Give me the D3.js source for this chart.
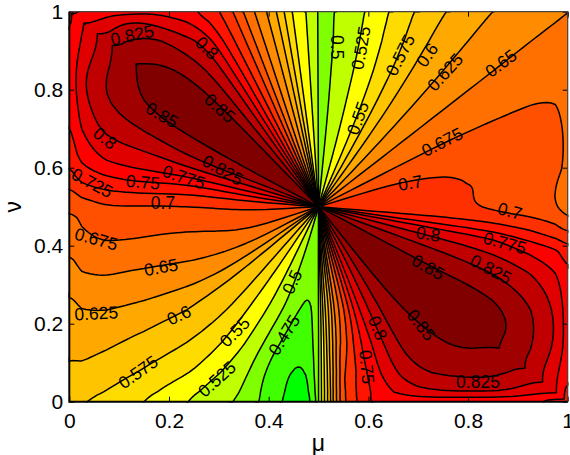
<!DOCTYPE html>
<html>
<head>
<meta charset="utf-8">
<script src="https://cdn.jsdelivr.net/npm/d3@7"></script>
<style>
body { margin: 0; background: #fff; }
text { font-family: "Liberation Sans", sans-serif; fill: #000; }
</style>
</head>
<body>
<script>
var width = 570,
	height = 455;

// contour levels and the colour painted above each one
var levels = [0.425, 0.45, 0.475, 0.5, 0.525, 0.55, 0.575, 0.6, 0.625, 0.65, 0.675, 0.7, 0.725, 0.75, 0.775, 0.8, 0.825, 0.85];
var bandColors = ["#00ff00", "#40ff00", "#80ff00", "#bfff00", "#ffff00", "#ffdc00", "#ffc400", "#ffa800", "#ff8c00", "#ff7000", "#ff5000", "#ff3000", "#ff1400", "#ff0000", "#e00000", "#c00000", "#a00000", "#800000"];
var baseColor = "#00ff50";

var xTicks = [0, 0.2, 0.4, 0.6, 0.8, 1];
var yTicks = [0, 0.2, 0.4, 0.6, 0.8, 1];

// the field is read along rays from the centre (0.5, 0.5) to points on the border
var borderMu = [0, .06, .12, .18, .23, .27, .3, .33, .36, .39, .42, .45, .475, .497, .503, .53, .57, .62, .68, .75, .84, .92,
	1, 1, 1, 1, 1, 1, 1, 1, 1, 1, 1, 1, 1,
	1, .9, .8, .72, .66, .63, .6, .58, .56, .545, .53, .52, .51, .503, .497, .47, .43, .38, .33, .27, .2, .12, .04,
	0, 0, 0, 0, 0, 0, 0, 0, 0, 0, 0, 0, 0];
var borderNu = [1, 1, 1, 1, 1, 1, 1, 1, 1, 1, 1, 1, 1, 1, 1, 1, 1, 1, 1, 1, 1, 1,
	1, .9, .8, .7, .6, .55, .5, .46, .42, .38, .3, .2, .1,
	0, 0, 0, 0, 0, 0, 0, 0, 0, 0, 0, 0, 0, 0, 0, 0, 0, 0, 0, 0, 0, 0, 0,
	0, .08, .18, .28, .36, .42, .47, .5, .54, .58, .64, .74, .86];
var ringFrac = [0, .25, .5, .7, .85, .95, 1];

// one row per ray, one column per ring
var rayValues = [
	[.875, .87, .87, .86, .815, .762, .74],
	[.87, .87, .865, .855, .83, .79, .76],
	[.85, .85, .85, .845, .83, .80, .765],
	[.825, .825, .825, .825, .81, .785, .77],
	[.797, .797, .797, .797, .795, .77, .762],
	[.757, .757, .757, .757, .755, .748, .743],
	[.727, .727, .727, .727, .727, .727, .727],
	[.699, .699, .699, .699, .699, .699, .699],
	[.661, .661, .661, .661, .661, .661, .661],
	[.632, .632, .632, .632, .632, .632, .632],
	[.595, .595, .595, .595, .595, .595, .595],
	[.543, .543, .543, .543, .543, .543, .543],
	[.526, .526, .526, .526, .526, .526, .526],
	[.503, .503, .503, .503, .503, .503, .503],
	[.492, .492, .492, .492, .492, .492, .492],
	[.497, .497, .497, .498, .498, .499, .499],
	[.511, .511, .512, .512, .513, .514, .514],
	[.53, .53, .532, .534, .536, .538, .539],
	[.552, .553, .556, .56, .565, .569, .57],
	[.59, .59, .592, .595, .597, .598, .598],
	[.618, .618, .62, .622, .623, .624, .624],
	[.635, .635, .636, .636, .637, .637, .637],
	[.65, .65, .65, .65, .65, .65, .65],
	[.661, .661, .661, .661, .661, .66, .66],
	[.68, .68, .68, .678, .677, .674, .668],
	[.698, .70, .692, .683, .681, .68, .672],
	[.712, .712, .71, .692, .681, .68, .672],
	[.712, .712, .71, .693, .683, .676, .663],
	[.703, .706, .71, .695, .685, .675, .665],
	[.718, .718, .718, .712, .705, .697, .68],
	[.742, .742, .742, .74, .73, .72, .714],
	[.773, .775, .775, .775, .762, .755, .738],
	[.817, .817, .817, .812, .80, .783, .76],
	[.84, .84, .84, .84, .826, .80, .762],
	[.865, .865, .865, .865, .83, .795, .76],
	[.875, .875, .875, .855, .815, .775, .73],
	[.875, .875, .865, .855, .835, .80, .755],
	[.845, .845, .845, .84, .83, .80, .755],
	[.817, .817, .82, .825, .82, .795, .757],
	[.77, .772, .778, .78, .785, .776, .757],
	[.74, .742, .745, .76, .765, .76, .755],
	[.70, .70, .70, .725, .737, .745, .75],
	[.675, .675, .675, .70, .717, .725, .727],
	[.647, .647, .647, .67, .70, .705, .708],
	[.615, .615, .612, .638, .66, .677, .683],
	[.587, .587, .583, .595, .61, .62, .625],
	[.565, .565, .56, .566, .572, .578, .583],
	[.535, .535, .53, .534, .538, .54, .542],
	[.506, .506, .506, .508, .51, .512, .512],
	[.498, .498, .495, .49, .488, .486, .485],
	[.49, .49, .472, .46, .446, .432, .42],
	[.495, .49, .475, .46, .45, .45, .45],
	[.502, .50, .495, .478, .47, .473, .475],
	[.519, .519, .517, .506, .504, .503, .5],
	[.539, .539, .537, .534, .523, .518, .516],
	[.563, .563, .56, .557, .55, .538, .536],
	[.584, .584, .586, .575, .566, .56, .558],
	[.599, .599, .597, .586, .58, .577, .575],
	[.605, .605, .6, .59, .587, .583, .58],
	[.632, .632, .62, .608, .602, .6, .597],
	[.654, .653, .64, .63, .623, .615, .608],
	[.672, .674, .66, .651, .647, .638, .625],
	[.683, .683, .673, .67, .667, .66, .645],
	[.692, .69, .68, .68, .68, .672, .659],
	[.699, .703, .69, .69, .685, .678, .671],
	[.71, .708, .70, .697, .698, .685, .679],
	[.72, .72, .715, .72, .72, .71, .695],
	[.743, .743, .734, .745, .743, .735, .715],
	[.773, .773, .77, .778, .776, .76, .735],
	[.825, .825, .825, .812, .81, .782, .75],
	[.855, .855, .852, .85, .83, .80, .755]
];

// inline contour labels
var labelText = ["0.825", "0.8", "0.85", "0.85", "0.8", "0.825", "0.775", "0.75", "0.725", "0.7", "0.675", "0.65", "0.625", "0.6", "0.575", "0.55", "0.525", "0.475", "0.5", "0.5", "0.525", "0.55", "0.575", "0.6", "0.625", "0.65", "0.675", "0.7", "0.7", "0.8", "0.775", "0.825", "0.85", "0.85", "0.8", "0.75", "0.825"];
var labelMu = [.126, .276, .186, .302, .072, .308, .230, .148, .046, .188, .054, .184, .054, .220, .138, .332, .296, .431, .447, .537, .585, .579, .664, .718, .754, .866, .748, .684, .884, .720, .874, .846, .720, .706, .619, .597, .820];
var labelNu = [.940, .907, .735, .753, .676, .594, .576, .563, .561, .510, .417, .345, .227, .222, .076, .179, .058, .171, .307, .909, .907, .727, .889, .889, .845, .868, .666, .561, .489, .430, .407, .340, .345, .197, .189, .089, .050];
var labelAngle = [-12, 45, 30, 42, 38, 30, 18, 5, 28, 0, 15, -10, -3, -25, -35, -45, -42, -58, -65, 90, -80, -70, -63, -55, -48, -37, -27, -10, 15, 8, 15, 28, 30, 52, 68, 85, 0];

var margin = {left: 69.3, right: 2.3, top: 11.7, bottom: 53.3};

var x = d3.scaleLinear().domain([0, 1]).range([margin.left, width - margin.right]);
var y = d3.scaleLinear().domain([0, 1]).range([height - margin.bottom, margin.top]);

var svg = d3.select("body").append("svg")
	.attr("width", width)
	.attr("height", height);

var nRays = rayValues.length,
	nRings = ringFrac.length,
	step = 6,
	rayPasses = 10,
	ringPasses = 10;

function spline(a, b, c, d, t) {
	return 0.5 * (2 * b + (c - a) * t + (2 * a - 5 * b + 4 * c - d) * t * t + (3 * b - a - 3 * c + d) * t * t * t);
}

// same, kept inside [b, c] so the steep seams do not ring
function clamped(a, b, c, d, t) {
	return Math.max(Math.min(b, c), Math.min(Math.max(b, c), spline(a, b, c, d, t)));
}

// refine the read table so the contours come out smooth; rays wrap round, one extra span overlaps the seam
function refinedGrid() {
	var period = nRays * step,
		w = period + step + 1,
		h = (nRings - 1) * step + 1,
		cols = [];
	for (var c = 0; c < period; c++) {
		var i = Math.floor(c / step),
			ti = c / step - i,
			col = [];
		for (var r = 0; r < h; r++) {
			var j = Math.min(Math.floor(r / step), nRings - 2),
				tj = r / step - j;
			var along = [j - 1, j, j + 1, j + 2].map(function(q) {
				var k = Math.max(0, Math.min(nRings - 1, q));
				return clamped(
					rayValues[(i - 1 + nRays) % nRays][k],
					rayValues[i][k],
					rayValues[(i + 1) % nRays][k],
					rayValues[(i + 2) % nRays][k], ti);
			});
			col.push(spline(along[0], along[1], along[2], along[3], tj));
		}
		cols.push(col);
	}
	// 1-2-1 passes take the kinks out at the table's knots
	var p, next;
	for (p = 0; p < rayPasses; p++) {
		next = cols.map(function(col, c) {
			var a = cols[(c - 1 + period) % period], b = cols[(c + 1) % period];
			return col.map(function(v, r) { return (a[r] + 2 * v + b[r]) / 4; });
		});
		cols = next;
	}
	for (p = 0; p < ringPasses; p++) {
		cols = cols.map(function(col) {
			return col.map(function(v, r) {
				return (col[Math.max(0, r - 1)] + 2 * v + col[Math.min(h - 1, r + 1)]) / 4;
			});
		});
	}
	var out = new Array(w * h);
	for (var cc = 0; cc < w; cc++) {
		for (var rr = 0; rr < h; rr++) out[rr * w + cc] = cols[cc % period][rr];
	}
	return {w: w, h: h, values: out};
}

var grid = refinedGrid();

var rayIdx = d3.range(nRays + 2);
var muAt = d3.scaleLinear().domain(rayIdx).range(borderMu.concat(borderMu[0], borderMu[1]));
var nuAt = d3.scaleLinear().domain(rayIdx).range(borderNu.concat(borderNu[0], borderNu[1]));
var fracAt = d3.scaleLinear().domain(d3.range(nRings)).range(ringFrac);

// contour coordinates -> pixels
function toPixel(p) {
	var c = Math.max(0, Math.min(grid.w - 1, p[0] - 0.5)) / step,
		r = Math.max(0, Math.min(grid.h - 1, p[1] - 0.5)) / step,
		f = fracAt(r);
	return [x(0.5 + f * (muAt(c) - 0.5)), y(0.5 + f * (nuAt(c) - 0.5))];
}

var contours = d3.contours()
	.size([grid.w, grid.h])
	.thresholds(levels)(grid.values);

function ringPath(ring) {
	return "M" + ring.map(function(p) { return toPixel(p).join(","); }).join("L") + "Z";
}

function sameSide(a, b) {
	return (a[0] === 0 && b[0] === 0) || (a[0] === grid.w && b[0] === grid.w) ||
		(a[1] === 0 && b[1] === 0) || (a[1] === grid.h && b[1] === grid.h);
}

// contour line without the parts that only run along the edge of the grid
function linePath(ring) {
	var d = "", open = false;
	for (var i = 1; i < ring.length; i++) {
		if (sameSide(ring[i - 1], ring[i])) { open = false; continue; }
		if (!open) d += "M" + toPixel(ring[i - 1]).join(",");
		d += "L" + toPixel(ring[i]).join(",");
		open = true;
	}
	return d;
}

svg.append("rect")
	.attr("x", x(0)).attr("y", y(1))
	.attr("width", x(1) - x(0)).attr("height", y(0) - y(1))
	.attr("fill", baseColor);

svg.append("g").selectAll("path")
	.data(contours)
	.enter().append("path")
	.attr("fill", function(d, i) { return bandColors[i]; })
	.attr("d", function(d) {
		return d.coordinates.map(function(poly) { return poly.map(ringPath).join(""); }).join("");
	});

svg.append("g").selectAll("path")
	.data(contours)
	.enter().append("path")
	.attr("fill", "none")
	.attr("stroke", "#000")
	.attr("stroke-width", 1.5)
	.attr("stroke-linejoin", "round")
	.attr("d", function(d) {
		return d.coordinates.map(function(poly) { return poly.map(linePath).join(""); }).join("");
	});

svg.append("g").selectAll("text")
	.data(labelText)
	.enter().append("text")
	.attr("text-anchor", "middle")
	.attr("dy", ".35em")
	.attr("font-size", 17.5)
	.attr("transform", function(d, i) {
		return "translate(" + x(labelMu[i]) + "," + y(labelNu[i]) + ") rotate(" + labelAngle[i] + ")";
	})
	.text(function(d) { return d; });

// axes: inward ticks on all four sides
function styleAxis(g) {
	g.select(".domain").remove();
	g.selectAll("line").attr("stroke", "#000");
	g.selectAll("text").attr("font-size", 21).attr("fill", "#000").attr("font-family", "Liberation Sans");
}

svg.append("g")
	.attr("transform", "translate(0," + y(0) + ")")
	.call(d3.axisBottom(x).tickValues(xTicks).tickFormat(String).tickSizeInner(-5).tickPadding(11))
	.call(styleAxis);
svg.append("g")
	.attr("transform", "translate(" + x(0) + ",0)")
	.call(d3.axisLeft(y).tickValues(yTicks).tickFormat(String).tickSizeInner(-5).tickPadding(6))
	.call(styleAxis);
svg.append("g")
	.attr("transform", "translate(0," + y(1) + ")")
	.call(d3.axisTop(x).tickValues(xTicks).tickFormat("").tickSizeInner(-5))
	.call(styleAxis);
svg.append("g")
	.attr("transform", "translate(" + x(1) + ",0)")
	.call(d3.axisRight(y).tickValues(yTicks).tickFormat("").tickSizeInner(-5))
	.call(styleAxis);

svg.append("path")
	.attr("d", "M" + x(0) + "," + y(1) + "H" + x(1) + "V" + y(0))
	.attr("fill", "none")
	.attr("stroke", "#444")
	.attr("stroke-width", 1.2);
svg.append("path")
	.attr("d", "M" + x(0) + "," + y(1) + "V" + y(0) + "H" + x(1))
	.attr("fill", "none")
	.attr("stroke", "#000")
	.attr("stroke-width", 2);

svg.append("text")
	.attr("x", x(0.5))
	.attr("y", 451)
	.attr("text-anchor", "middle")
	.attr("font-size", 23)
	.text("μ");
svg.append("text")
	.attr("transform", "translate(21," + y(0.5) + ") rotate(-90)")
	.attr("text-anchor", "middle")
	.attr("font-size", 23)
	.text("ν");
</script>
</body>
</html>
